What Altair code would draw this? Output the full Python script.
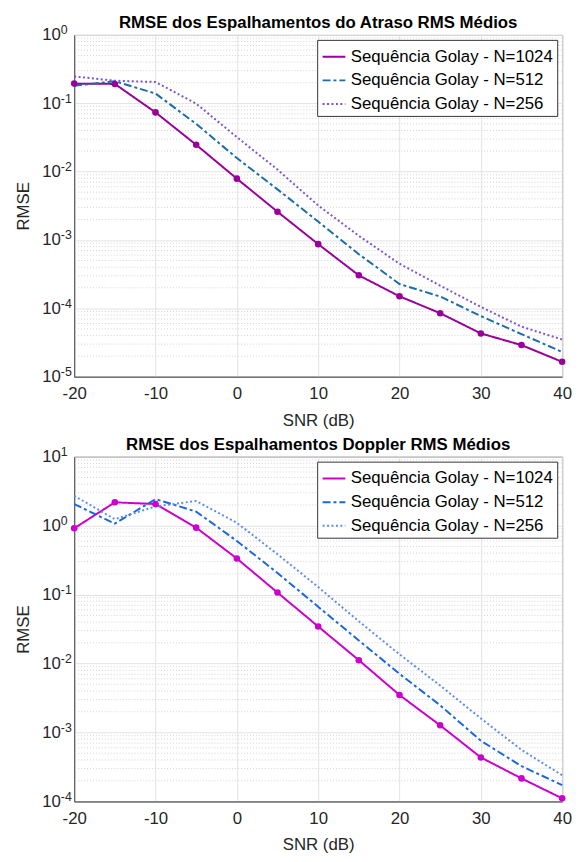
import altair as alt
import pandas as pd

snr = [-20, -15, -10, -5, 0, 5, 10, 15, 20, 25, 30, 35, 40]
series = ["Sequência Golay - N=1024", "Sequência Golay - N=512", "Sequência Golay - N=256"]

# RMSE dos Espalhamentos do Atraso RMS Médios
atraso_1024 = [0.194, 0.192, 0.0736, 0.0247, 0.0079, 0.00259, 0.00087, 0.000304, 0.000150, 8.5e-5, 4.3e-5, 2.9e-5, 1.65e-5]
atraso_512 = [0.181, 0.210, 0.139, 0.050, 0.0158, 0.0055, 0.00186, 0.00062, 0.000227, 0.000149, 7.7e-5, 4.2e-5, 2.3e-5]
atraso_256 = [0.247, 0.214, 0.205, 0.099, 0.032, 0.0107, 0.0032, 0.00115, 0.00045, 0.000215, 0.000105, 5.4e-5, 3.5e-5]

# RMSE dos Espalhamentos Doppler RMS Médios
doppler_1024 = [0.916, 2.18, 2.06, 0.936, 0.334, 0.107, 0.0345, 0.0112, 0.0035, 0.00127, 0.000435, 0.000216, 0.000111]
doppler_512 = [2.06, 1.07, 2.43, 1.60, 0.60, 0.206, 0.0667, 0.0216, 0.0071, 0.00248, 0.00076, 0.000325, 0.000173]
doppler_256 = [2.71, 1.24, 1.90, 2.28, 1.10, 0.385, 0.129, 0.041, 0.0136, 0.0048, 0.0016, 0.00056, 0.00024]

titles = ["RMSE dos Espalhamentos do Atraso RMS Médios", "RMSE dos Espalhamentos Doppler RMS Médios"]
colors_top = ["#990099", "#1b6ca8", "#7b52d6"]
colors_bottom = ["#cc00cc", "#1a68dc", "#5b8cf0"]
dashes = [[1, 0], [8, 3, 3, 3], [2, 2.5]]
x_ticks = [-20, -10, 0, 10, 20, 30, 40]
top_exps = [-5, -4, -3, -2, -1, 0]
bottom_exps = [-4, -3, -2, -1, 0, 1]

FONT = "Liberation Sans"


def exp_expr(exps):
    expr = "''"
    for e in reversed(exps):
        expr = f"datum.value < {3 * 10.0 ** e} ? '{e}' : " + expr
    return expr


def panel(title, vals, colors, exps, height):
    rows = []
    for name, vv in zip(series, vals):
        for s, v in zip(snr, vv):
            rows.append({"snr": s, "rmse": v, "serie": name})
    df = pd.DataFrame(rows)
    minor = [m * 10.0 ** e for e in exps[:-1] for m in range(2, 10)]
    minor_df = pd.DataFrame({"rmse": minor})
    majors = [10.0 ** e for e in exps]

    xenc = alt.X("snr:Q", scale=alt.Scale(domain=[-20, 40], nice=False, zero=False),
                 axis=alt.Axis(values=x_ticks, title="SNR (dB)", labelExpr="toString(datum.value)",
                               labelFlush=False, grid=True, labelPadding=9, titlePadding=11))
    yscale = alt.Scale(type="log", domain=[10.0 ** exps[0], 10.0 ** exps[-1]], nice=False)
    yenc = alt.Y("rmse:Q", scale=yscale,
                 axis=alt.Axis(values=majors, labelExpr="'10'", orient="left",
                               title="RMSE", grid=True, labelPadding=14, titlePadding=9))
    yenc_exp = alt.Y("rmse:Q", scale=yscale,
                     axis=alt.Axis(values=majors, labelExpr=exp_expr(exps), orient="left", title=None,
                                   grid=False, domain=False, labelAlign="left", labelPadding=14,
                                   labelFontSize=12.5, labelOffset=-5, labelBaseline="middle"))

    grid_minor = alt.Chart(minor_df).mark_rule(color="#d2d2d2", strokeDash=[1, 2], strokeWidth=1).encode(
        y=yenc_exp)

    leg = alt.Legend(title=None, orient="top-right", offset=5, symbolType="stroke", symbolSize=530,
                     symbolStrokeWidth=2, labelFont=FONT, labelFontSize=17, labelColor="#000000",
                     fillColor="white", strokeColor="#333333", padding=4, rowPadding=3,
                     labelOffset=4, labelLimit=400, cornerRadius=0)
    lines = alt.Chart(df).mark_line(strokeWidth=2).encode(
        x=xenc, y=yenc,
        color=alt.Color("serie:N", scale=alt.Scale(domain=series, range=colors), legend=leg),
        strokeDash=alt.StrokeDash("serie:N", scale=alt.Scale(domain=series, range=dashes), legend=leg),
        order=alt.Order("snr:Q"),
    )
    pts = alt.Chart(df[df["serie"] == series[0]]).mark_point(filled=True, size=44, opacity=1).encode(
        x=xenc, y=yenc, color=alt.value(colors[0]))

    return alt.layer(grid_minor, alt.layer(lines, pts)).resolve_axis(y="independent").properties(
        width=494, height=height,
        title=alt.Title(title, font=FONT, fontSize=17, fontWeight="bold", color="#000000", offset=-8),
    )


top = panel(titles[0], [atraso_1024, atraso_512, atraso_256], colors_top, top_exps, 346)
bottom = panel(titles[1], [doppler_1024, doppler_512, doppler_256], colors_bottom, bottom_exps, 349)

chart = alt.vconcat(top, bottom, spacing=6).resolve_scale(
    x="independent", y="independent", color="independent", strokeDash="independent"
).resolve_legend(color="independent", strokeDash="independent").configure(
    padding={"left": 6, "top": 0, "right": 2, "bottom": 0}, background="white"
).configure_view(stroke="#4d4d4d", strokeWidth=1).configure_axis(
    labelFont=FONT, labelFontSize=17, labelColor="#262626", titleFont=FONT, titleFontSize=17,
    titleFontWeight="normal", titleColor="#262626", gridColor="#e3e3e3", gridWidth=1,
    domainColor="#4d4d4d", ticks=False,
)

chart.save("out.html", embed_options={"renderer": "svg", "actions": False})
